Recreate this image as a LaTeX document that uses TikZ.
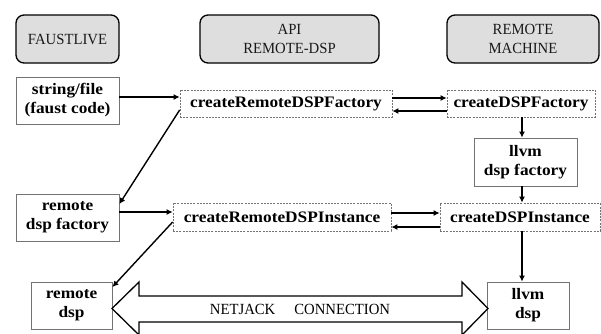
\documentclass[tikz,border=0pt]{standalone}
\usepackage{fontspec}
\setmainfont{Liberation Serif}[UprightFeatures={FakeStretch=0.95},BoldFeatures={FakeStretch=1.08}]
\usetikzlibrary{arrows.meta}
\begin{document}
\begin{tikzpicture}[x=1pt,y=-1pt,
  every node/.style={inner sep=0pt, align=center, font=\fontsize{15.5}{18.5}\selectfont},
  hdr/.style={draw, line width=1.3pt, fill=black!13, rounded corners=8pt, text=black!90},
  sbox/.style={draw=black!55, line width=0.8pt, fill=white, font=\fontsize{16}{19}\selectfont\bfseries},
  dbox/.style={draw=black!55, line width=0.7pt, dash pattern=on 2pt off 1.2pt, fill=white, font=\fontsize{16}{19}\selectfont\bfseries},
  arr/.style={line width=1.4pt, -{Latex[length=6pt,width=6pt]}},
  bigarr/.style={draw, line width=1.3pt, fill=white, line join=miter},
]
\useasboundingbox (0,0) rectangle (601,333);
\clip (0,0) rectangle (601,333);

% headers
\node[hdr, minimum width=103pt, minimum height=48pt] (h1) at (67.5,39) {FAUSTLIVE};
\node[hdr, minimum width=179pt, minimum height=48pt] (h2) at (289.5,39) {API\\REMOTE-DSP};
\node[hdr, minimum width=152pt, minimum height=48pt] (h3) at (523,39) {REMOTE\\MACHINE};

% boxes
\node[sbox, minimum width=103pt, minimum height=47pt] (sf) at (67.5,100.5) {string/file\\(faust code)};
\node[dbox, minimum width=212pt, minimum height=27pt] (crf) at (286,103.5) {createRemoteDSPFactory};
\node[dbox, minimum width=148pt, minimum height=27pt] (cf) at (521,103.5) {createDSPFactory};
\node[sbox, minimum width=103pt, minimum height=48pt] (lf) at (525.5,162) {llvm\\dsp factory};
\node[dbox, minimum width=218pt, minimum height=28pt] (cri) at (282,217) {createRemoteDSPInstance};
\node[dbox, minimum width=160pt, minimum height=28pt] (ci) at (520,217) {createDSPInstance};
\node[sbox, minimum width=103pt, minimum height=47pt] (rf) at (67.5,217.5) {remote\\dsp factory};
\node[sbox, minimum width=81pt, minimum height=47pt] (rd) at (71.5,305.5) {remote\\dsp};
\node[sbox, minimum width=82pt, minimum height=47pt] (ld) at (528,305.5) {llvm\\dsp};

% big double arrow
\draw[bigarr] (112,308.5) -- (139,282) -- (139,296) -- (462,296) -- (462,282) -- (488,308.5)
  -- (462,335) -- (462,322) -- (139,322) -- (139,335) -- cycle;
\node (net) at (300,309.5) {NETJACK\hspace{19pt}CONNECTION};

% arrows
\draw[arr] ([yshift=3.5pt]sf.east) -- ([yshift=6.5pt]crf.west);
\draw[arr] ([yshift=5.5pt]crf.east) -- ([yshift=5.5pt]cf.west);
\draw[arr] ([yshift=-7.5pt]cf.west) -- ([yshift=-7.5pt]crf.east);
\draw[arr] ([xshift=1pt]cf.south) -- ([xshift=-3.5pt]lf.north);
\draw[arr] ([xshift=-3.5pt]lf.south) -- ([xshift=2pt]ci.north);
\draw[arr] ([yshift=-6.5pt]crf.west) -- ([yshift=13.5pt]rf.east);
\draw[arr] ([yshift=5.5pt]rf.east) -- ([yshift=5pt]cri.west);
\draw[arr] ([yshift=4pt]cri.east) -- ([yshift=4pt]ci.west);
\draw[arr] ([yshift=-10pt]ci.west) -- ([yshift=-10pt]cri.east);
\draw[arr] ([yshift=-5pt]cri.west) -- ([yshift=18.5pt]rd.east);
\draw[arr] ([xshift=2pt]ci.south) -- ([xshift=-6pt]ld.north);
\end{tikzpicture}
\end{document}
